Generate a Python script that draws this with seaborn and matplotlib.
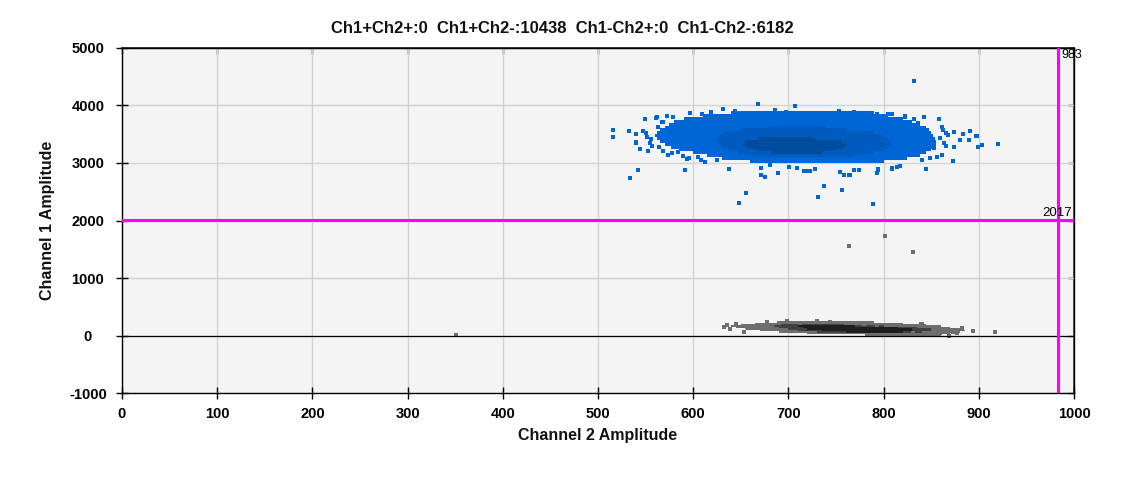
import numpy as np
import pandas as pd
import matplotlib
matplotlib.use("Agg")
import matplotlib.pyplot as plt
import seaborn as sns

# ---------------- data ----------------
counts = {"Ch1+Ch2+": 0, "Ch1+Ch2-": 10438, "Ch1-Ch2+": 0, "Ch1-Ch2-": 6182}
thr_ch1 = 2017   # horizontal threshold (Channel 1)
thr_ch2 = 983    # vertical threshold (Channel 2)

# dense part of the Ch1+ (blue) cloud: Ch1 band start, band height 50,
# Ch2 extent per band for density level 1 / 2 / 3
blue_band = [3850, 3800, 3750, 3700, 3650, 3600, 3550, 3500, 3450, 3400,
             3350, 3300, 3250, 3200, 3150, 3100, 3050, 3000]
blue_l1 = [(640, 790), (610, 805), (590, 820), (580, 830), (575, 838), (570, 845),
           (565, 848), (562, 850), (560, 852), (562, 854), (565, 855), (570, 855),
           (577, 852), (585, 850), (600, 845), (615, 838), (630, 825), (660, 800)]
blue_l2 = [None, None, None, None, None, (680, 740), (650, 760), (632, 790), (627, 800),
           (625, 805), (625, 808), (628, 808), (630, 805), (637, 800), (647, 790),
           (662, 770), None, None]
blue_l3 = [None, None, None, None, None, None, None, None, None, (668, 728),
           (655, 755), (652, 762), (657, 758), (667, 748), (682, 735), None, None, None]

# dense part of the Ch1- (grey) cloud, band height 25
grey_band = [225, 200, 175, 150, 125, 100, 75, 50, 25, 0]
grey_l1 = [(690, 790), (665, 820), (650, 845), (640, 860), (645, 870), (655, 880),
           (670, 885), (690, 880), (720, 870), (780, 860)]
grey_l2 = [None, None, (690, 760), (685, 800), (690, 835), (700, 850), (710, 850),
           (730, 840), None, None]
grey_l3 = [None, None, None, (710, 770), (715, 815), (720, 830), (735, 830),
           (760, 820), None, None]

# single droplets outside the dense parts
blue_x = [516, 516, 533, 540, 547, 549, 562, 573, 579, 568, 563, 550, 540, 544, 552, 555,
          564, 568, 574, 584, 593, 597, 631, 668, 542, 534, 591, 638, 671, 675, 689, 605,
          625, 707, 805, 809, 822, 842, 858, 836, 861, 874, 883, 891, 898, 880, 890, 899,
          874, 863, 866, 853, 861, 873, 844, 814, 809, 794, 793, 769, 765, 758, 754, 728,
          723, 716, 849, 840, 856, 832, 648, 655, 731, 737, 756, 789, 903, 920, 897,
          609, 619, 644, 686, 697, 753, 769, 784, 793, 805, 822, 832, 842, 858,
          671, 681, 701, 709, 718, 754, 764, 774, 794, 809, 817, 845,
          540, 551, 561, 567, 557, 556, 578, 589, 596, 608, 612, 859, 862, 866, 868]
blue_y = [3568, 3446, 3551, 3499, 3562, 3760, 3794, 3812, 3794, 3707, 3620, 3516, 3359, 3238,
          3209, 3354, 3272, 3203, 3139, 3197, 3069, 3864, 3934, 4026, 2872, 2733, 2872, 2895,
          2797, 2750, 2826, 3110, 3052, 3992, 3852, 3852, 3818, 3794, 3760, 3702, 3620, 3534,
          3499, 3551, 3470, 3400, 3400, 3272, 3272, 3354, 3516, 3255, 3139, 3035, 2890, 2936,
          2901, 2878, 2820, 2878, 2791, 2791, 2849, 2895, 2861, 2861, 3081, 3052, 3110, 4420,
          2297, 2471, 2401, 2593, 2529, 2280, 3313, 3325, 3463,
          3851, 3880, 3904, 3921, 3880, 3904, 3892, 3863, 3851, 3851, 3805, 3759, 3793, 3759,
          2906, 2958, 2923, 2906, 2866, 2842, 2790, 2877, 2889, 2906, 2947, 2895,
          3353, 3445, 3788, 3706, 3290, 3420, 3170, 3130, 3090, 3060, 3020, 3430, 3580, 3300, 3480]
grey_x = [632, 635, 639, 645, 653, 656, 840, 864, 869, 873, 877, 882, 894, 917, 351, 764, 801, 831,
          677, 690, 698, 712, 730, 744, 761, 779, 793, 810, 839, 831, 845, 852, 859]
grey_y = [141, 176, 118, 194, 54, 153, 194, 66, -9, 66, 37, 124, 83, 54, 9, 1551, 1725, 1447,
          234, 223, 246, 211, 257, 228, 211, 199, 188, 182, 194, 37, 20, 37, 49]

x_ticks = list(range(0, 1001, 100))
y_ticks = list(range(-1000, 5001, 1000))

blue_cols = ["#0066D6", "#005BBE", "#004D9F"]
grey_cols = ["#6E6E6E", "#404040", "#1E1E1E"]

# ---------------- style ----------------
sns.set_theme(style="ticks")
plt.rcParams['font.family'] = ['Liberation Sans', 'DejaVu Sans']
plt.rcParams['axes.unicode_minus'] = False

fig, ax = plt.subplots(figsize=(11.25, 4.78), dpi=100)
fig.subplots_adjust(left=0.1084, right=0.9547, top=0.8996, bottom=0.1778)
ax.set_facecolor('#F4F4F4')


def draw_cloud(bands, height, levels, colors):
    for runs, col in zip(levels, colors):
        for y0, run in zip(bands, runs):
            if run is None:
                continue
            ax.broken_barh([(run[0], run[1] - run[0])], (y0, height), facecolors=col,
                           edgecolor='none', linewidth=0, antialiased=False, zorder=2)


draw_cloud(blue_band, 50, [blue_l1, blue_l2, blue_l3], blue_cols)
draw_cloud(grey_band, 25, [grey_l1, grey_l2, grey_l3], grey_cols)

df_blue = pd.DataFrame({"ch2": blue_x, "ch1": blue_y})
df_grey = pd.DataFrame({"ch2": grey_x, "ch1": grey_y})
sns.scatterplot(data=df_blue, x="ch2", y="ch1", marker='s', s=9, color=blue_cols[0],
                linewidth=0, ax=ax, zorder=3)
sns.scatterplot(data=df_grey, x="ch2", y="ch1", marker='s', s=9, color=grey_cols[0],
                linewidth=0, ax=ax, zorder=3)

# zero line and thresholds
ax.axhline(0, color='black', lw=0.9, zorder=4)
ax.axhline(thr_ch1, color='#FF00FF', lw=2.2, zorder=5)
ax.axvline(thr_ch2, color='#FF00FF', lw=2.2, zorder=5)
ax.annotate(str(thr_ch2), xy=(thr_ch2, 5000), xytext=(2.5, -1), textcoords='offset points',
            ha='left', va='top', fontsize=9, color='black', annotation_clip=False, zorder=6)
ax.annotate(str(thr_ch1), xy=(1000, thr_ch1), xytext=(-1.5, 0.5), textcoords='offset points',
            ha='right', va='bottom', fontsize=9.5, color='black', zorder=6)

# axes
ax.set_xlim(0, 1000)
ax.set_ylim(-1000, 5000)
ax.set_xticks(x_ticks)
ax.set_yticks(y_ticks)
ax.grid(True, color='#D3D3D3', lw=1.0, zorder=0)
ax.set_axisbelow(True)
for sp in ax.spines.values():
    sp.set_color('black')
    sp.set_linewidth(1.0)
    sp.set_visible(True)

ax.tick_params(axis='both', direction='inout', length=8, width=1.0, colors='black',
               labelsize=10.5)
ax.tick_params(axis='x', pad=6)
ax.tick_params(axis='y', pad=20.5)
for lbl in ax.get_xticklabels() + ax.get_yticklabels():
    lbl.set_fontweight('bold')
for lbl in ax.get_yticklabels():
    lbl.set_ha('center')

secx = ax.secondary_xaxis('top')
secx.set_xticks(x_ticks)
secx.tick_params(direction='in', length=4, width=1.0, labeltop=False, colors='black')
secy = ax.secondary_yaxis('right')
secy.set_yticks(y_ticks)
secy.tick_params(direction='in', length=4, width=1.0, labelright=False, colors='black')

ax.set_xlabel("Channel 2 Amplitude", fontsize=11.5, fontweight='bold', color='#111111')
ax.set_ylabel("Channel 1 Amplitude", fontsize=11.5, fontweight='bold', color='#111111')
ax.xaxis.set_label_coords(0.5, -0.101)
ax.yaxis.set_label_coords(-0.0704, 0.5)

title = "  ".join(f"{k}:{v}" for k, v in counts.items())
fig.suptitle(title, x=0.5, y=0.956, va='top', fontsize=12, fontweight='bold', color='#111111')

fig.savefig("out.png", dpi=100, facecolor='white')
